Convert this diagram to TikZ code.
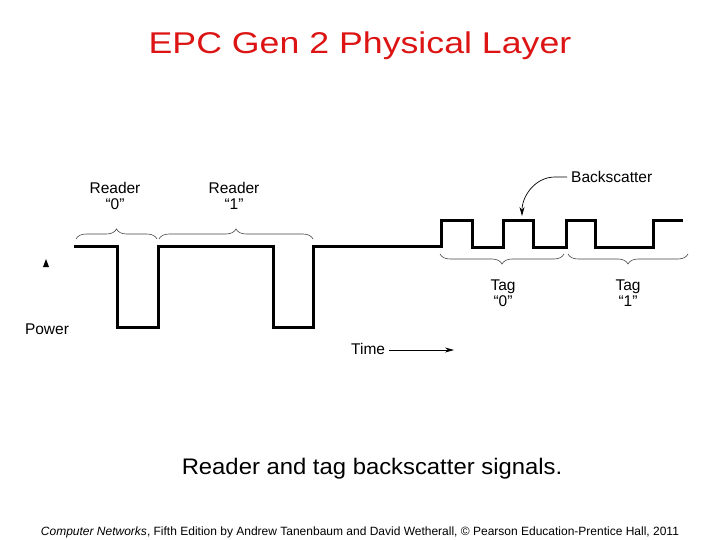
\documentclass[tikz,border=0pt]{standalone}
\usepackage{fontspec}
\setmainfont{Liberation Sans}
\usepackage{tikz}
\usetikzlibrary{calc, arrows.meta, decorations.pathreplacing}
\definecolor{titleColor}{HTML}{DC1414}
\definecolor{braceColor}{HTML}{444444}

\tikzset{
    lbl/.style={font=\fontsize{15.5}{16}\selectfont, align=center, inner sep=0pt},
    bracebar/.style={braceColor, line width=0.6pt, decorate, decoration={brace, amplitude=10pt}},
    signal/.style={line width=3pt, line join=miter},
    pointer/.style={line width=0.7pt, -{Stealth[length=9pt, width=5pt]}},
}

\begin{document}
\begin{tikzpicture}[x=1pt, y=-1pt]
    \useasboundingbox (0,0) rectangle (720,540);
    \node[titleColor, font=\fontsize{30}{30}\selectfont, xscale=1.19] (title) at (360,46) {EPC Gen 2 Physical Layer};
    \draw[signal] (74,246) -| (117,327) -| (158,246) -| (273,327) -| (313,246)
        -| (441,221) -| (472,247) -| (503,221) -| (533,247) -| (566,221)
        -| (595,247) -| (653,221) -- (683,221);
    \draw[bracebar] (76,239) -- (157,239);
    \draw[bracebar] (159,239) -- (313,239);
    \draw[bracebar] (564,254) -- (440,254);
    \draw[bracebar] (688,254) -- (568,254);
    \node[lbl] (rzero) at (115,196) {Reader\\“0”};
    \node[lbl] (rone) at (234,196) {Reader\\“1”};
    \node[lbl] (tzero) at (503,293) {Tag\\“0”};
    \node[lbl] (tone) at (628,293) {Tag\\“1”};
    \node[lbl, anchor=west] (bscat) at (571,177) {Backscatter};
    \coordinate (bstip) at (522,216);
    \draw[pointer] ($(bscat.west)+(-4,0)$) -- ++(-12,0) to[out=180, in=90] (bstip);
    \fill (43,267) -- (49,267) -- (46,259) -- cycle;
    \node[lbl] (power) at (47,329) {Power};
    \node[lbl, anchor=west] (time) at (351,349) {Time};
    \coordinate (tend) at (454,350);
    \draw[pointer] (time.east) ++(4,1) -- (tend);
    \node[font=\fontsize{22.5}{22.5}\selectfont, xscale=1.06] (caption) at (372,469) {Reader and tag backscatter signals.};
    \node[font=\fontsize{12}{12}\selectfont] (credit) at (360,532) {\textit{Computer Networks}, Fifth Edition by Andrew Tanenbaum and David Wetherall, © Pearson Education-Prentice Hall, 2011};
\end{tikzpicture}
\end{document}
